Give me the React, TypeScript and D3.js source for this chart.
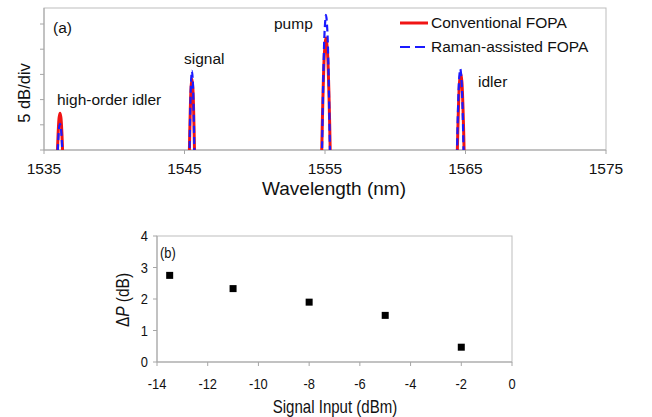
import React from 'react';
import * as d3 from 'd3';

// Spectrum peaks: [wavelength nm, level dB]
const conventionalPeaks: [number, number][][] = [
  [[1535.90, -5.7], [1535.96, 0], [1536.02, 4.1], [1536.08, 6.5], [1536.14, 7.3], [1536.20, 6.5], [1536.26, 4.1], [1536.32, 0], [1536.38, -5.7]],
  [[1545.31, -7], [1545.35, 0], [1545.41, 7.8], [1545.47, 12.5], [1545.53, 14.1], [1545.59, 12.5], [1545.65, 7.8], [1545.71, 0], [1545.75, -7]],
  [[1554.71, -9.8], [1554.77, 0], [1554.87, 12.3], [1554.97, 19.7], [1555.07, 22.2], [1555.17, 19.7], [1555.27, 12.3], [1555.37, 0], [1555.43, -9.8]],
  [[1564.37, -7], [1564.42, 0], [1564.50, 8.5], [1564.58, 13.6], [1564.66, 15.3], [1564.74, 13.6], [1564.82, 8.5], [1564.90, 0], [1564.95, -7]],
];
const ramanPeaks: [number, number][][] = [
  [[1535.92, -4.6], [1535.98, 0], [1536.04, 3.2], [1536.09, 4.7], [1536.14, 5.2], [1536.19, 4.7], [1536.24, 3.2], [1536.30, 0], [1536.36, -4.6]],
  [[1545.32, -8.3], [1545.36, 0], [1545.42, 9.1], [1545.48, 14.3], [1545.53, 15.7], [1545.58, 14.3], [1545.64, 9.1], [1545.70, 0], [1545.74, -8.3]],
  [[1554.73, -12.7], [1554.79, 0], [1554.89, 15.7], [1554.98, 24.0], [1555.07, 26.8], [1555.16, 24.0], [1555.25, 15.7], [1555.35, 0], [1555.41, -12.7]],
  [[1564.35, -7.8], [1564.40, 0], [1564.48, 9.3], [1564.555, 14.4], [1564.63, 16.1], [1564.705, 14.4], [1564.78, 9.3], [1564.86, 0], [1564.91, -7.8]],
];
const wavelengthTicks = [1535, 1545, 1555, 1565, 1575];
const levelTicks = [0, 5, 10, 15, 20, 25];
const peakLabels = [
  { text: 'high-order idler', x: 57, y: 105 },
  { text: 'signal', x: 184, y: 64 },
  { text: 'pump', x: 274, y: 29 },
  { text: 'idler', x: 478, y: 87 },
];

// Panel (b)
const signalInput = [-13.5, -11, -8, -5, -2];
const deltaP = [2.75, 2.33, 1.9, 1.48, 0.47];
const inputTicks = [-14, -12, -10, -8, -6, -4, -2, 0];
const deltaTicks = [0, 1, 2, 3, 4];

const RED = '#f01414';
const BLUE = '#1a1aff';
const AXIS = '#a6a6a6';
const INK = '#111';
const SANS = '"Liberation Sans", Arial, sans-serif';
const SQUEEZE = 0.86; // panel (b) uses a condensed face

const App = () => {
  // top panel
  const top = { left: 44, right: 606, top: 8, bottom: 150 };
  const x1 = d3.scaleLinear().domain([1535, 1575]).range([top.left, top.right]);
  const y1 = d3.scaleLinear().domain([0, 25]).range([top.bottom, 24]);
  const line1 = d3.line<[number, number]>()
    .x(d => x1(d[0]))
    .y(d => y1(d[1]))
    .curve(d3.curveCatmullRom);

  // bottom panel
  const bot = { left: 157, right: 512, top: 236, bottom: 362 };
  const x2 = d3.scaleLinear().domain([-14, 0]).range([bot.left, bot.right]);
  const y2 = d3.scaleLinear().domain([0, 4]).range([bot.bottom, bot.top]);

  const narrow = (x: number, y: number, rot = 0) =>
    `translate(${x},${y})${rot ? ` rotate(${rot})` : ''} scale(${SQUEEZE},1)`;

  return (
    <svg width={652} height={417} style={{ position: 'absolute', left: 0, top: 0, background: '#fff' }}>
      <defs>
        <clipPath id="clipA">
          <rect x={top.left} y={top.top} width={top.right - top.left} height={top.bottom - top.top} />
        </clipPath>
      </defs>

      {/* panel (a) frame */}
      <rect x={top.left} y={top.top} width={top.right - top.left} height={top.bottom - top.top}
        fill="none" stroke="#bdbdbd" strokeWidth={1} />
      <line x1={top.left} x2={top.right} y1={top.bottom} y2={top.bottom} stroke={AXIS} />
      <line x1={top.left} x2={top.left} y1={top.top} y2={top.bottom} stroke={AXIS} />
      {levelTicks.map(t => (
        <line key={t} x1={top.left - 4} x2={top.left} y1={y1(t)} y2={y1(t)} stroke={AXIS} />
      ))}
      {wavelengthTicks.map(t => (
        <g key={t}>
          <line x1={x1(t)} x2={x1(t)} y1={top.bottom} y2={top.bottom + 4} stroke={AXIS} />
          <text x={x1(t)} y={174} textAnchor="middle" fontFamily={SANS} fontSize={15.5} fill={INK}>{t}</text>
        </g>
      ))}
      <text x={334} y={195} textAnchor="middle" fontFamily={SANS} fontSize={19} fill={INK}>Wavelength (nm)</text>
      <text transform="translate(30,93) rotate(-90)" textAnchor="middle" fontFamily={SANS} fontSize={16.5} fill={INK}>5 dB/div</text>

      <g clipPath="url(#clipA)" fill="none">
        {conventionalPeaks.map((p, i) => (
          <path key={'c' + i} d={line1(p) || ''} stroke={RED} strokeWidth={3} />
        ))}
        {ramanPeaks.map((p, i) => (
          <path key={'r' + i} d={line1(p) || ''} stroke={BLUE} strokeWidth={2.2} strokeDasharray="7,4" />
        ))}
      </g>

      <text x={53} y={33} fontFamily={SANS} fontSize={15.5} fill={INK}>(a)</text>
      {peakLabels.map(l => (
        <text key={l.text} x={l.x} y={l.y} fontFamily={SANS} fontSize={15.5} fill={INK}>{l.text}</text>
      ))}

      {/* legend */}
      <line x1={400} x2={428} y1={23} y2={23} stroke={RED} strokeWidth={3} />
      <text x={431} y={28} fontFamily={SANS} fontSize={15.5} fill={INK}>Conventional FOPA</text>
      <line x1={400} x2={428} y1={47} y2={47} stroke={BLUE} strokeWidth={2.2} strokeDasharray="10,5" />
      <text x={431} y={52} fontFamily={SANS} fontSize={15.5} fill={INK}>Raman-assisted FOPA</text>

      {/* panel (b) frame */}
      <rect x={bot.left} y={bot.top} width={bot.right - bot.left} height={bot.bottom - bot.top}
        fill="none" stroke="#bdbdbd" strokeWidth={1} />
      <line x1={bot.left} x2={bot.right} y1={bot.bottom} y2={bot.bottom} stroke={AXIS} />
      <line x1={bot.left} x2={bot.left} y1={bot.top} y2={bot.bottom} stroke={AXIS} />
      {deltaTicks.map(t => (
        <g key={t}>
          <line x1={bot.left - 4} x2={bot.left} y1={y2(t)} y2={y2(t)} stroke={AXIS} />
          <text transform={narrow(148, y2(t) + 5)} textAnchor="end" fontFamily={SANS} fontSize={15} fill={INK}>{t}</text>
        </g>
      ))}
      {inputTicks.map(t => (
        <g key={t}>
          <line x1={x2(t)} x2={x2(t)} y1={bot.bottom} y2={bot.bottom + 4} stroke={AXIS} />
          <text transform={narrow(x2(t), 389)} textAnchor="middle" fontFamily={SANS} fontSize={15} fill={INK}>{t}</text>
        </g>
      ))}
      <text transform={narrow(335, 413)} textAnchor="middle" fontFamily={SANS} fontSize={17.5} fill={INK}>Signal Input (dBm)</text>
      <text transform={narrow(129, 300, -90)} textAnchor="middle" fontFamily={SANS} fontSize={18} fill={INK}>
        Δ<tspan fontStyle="italic">P</tspan> (dB)
      </text>
      <text transform={narrow(160, 258)} fontFamily={SANS} fontSize={15} fill={INK}>(b)</text>

      {signalInput.map((s, i) => (
        <rect key={s} x={x2(s) - 3.5} y={y2(deltaP[i]) - 3.5} width={7} height={7} fill="#000" />
      ))}
    </svg>
  );
};

export default App;
